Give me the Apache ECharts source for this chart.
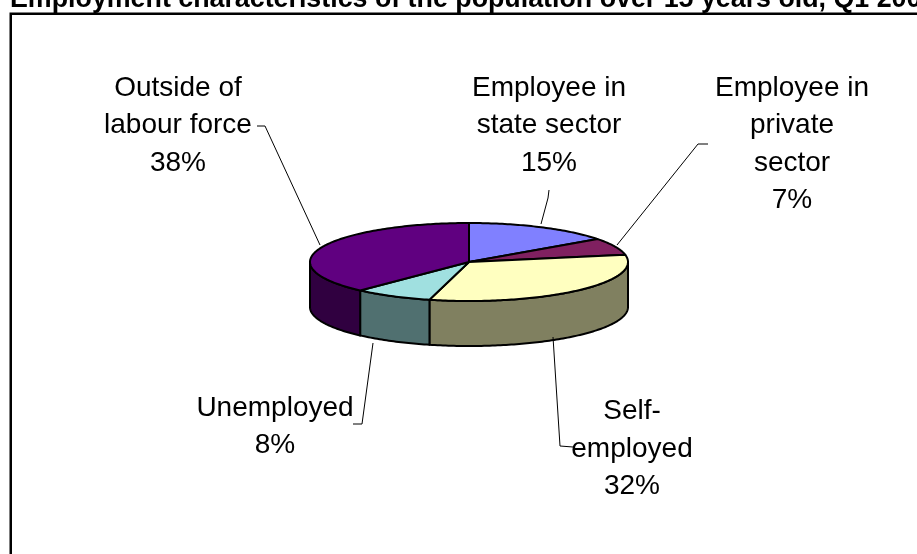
<!DOCTYPE html>
<html>
<head>
<meta charset="utf-8">
<script src="https://cdn.jsdelivr.net/npm/echarts@6/dist/echarts.min.js"></script>
<style>html,body{margin:0;padding:0;background:#fff}#c{width:917px;height:554px}</style>
</head>
<body>
<div id="c"></div>
<script>
// ---- data ----
var titleText = 'Employment characteristics of the population over 15 years old, Q1 2006';
var categories = ['Employee in\nstate sector', 'Employee in\nprivate\nsector', 'Self-\nemployed', 'Unemployed', 'Outside of\nlabour force'];
var values = [15, 7, 32, 8, 38];

// ---- styles / layout (not data) ----
var topColors = ['#8080FF', '#802060', '#FFFFC0', '#A0E0E0', '#600080'];
var sideColors = ['#404080', '#401030', '#808060', '#507070', '#300040'];
var pie = { cx: 469, cy: 262, rx: 159, ry: 39, depth: 45 };
var labelPos = [[549, 69.5], [792, 69.5], [632, 393], [275, 389.5], [178, 69.5]];
var leaders = [
  [[549, 190], [548, 198], [541, 224]],
  [[708, 144], [698, 144], [617, 245]],
  [[573, 447], [560, 446], [553, 337]],
  [[353, 424], [362, 424], [373, 343]],
  [[257, 126], [265, 126], [320, 245]]
];
var FONT = '"Liberation Sans", Arial, sans-serif';

var total = values.reduce(function (s, v) { return s + v; }, 0);

function pt(theta, dy) {
  return [pie.cx + pie.rx * Math.sin(theta), pie.cy - pie.ry * Math.cos(theta) + (dy || 0)];
}
function arc(a, b, dy) {
  var pts = [];
  var n = Math.max(2, Math.ceil((b - a) / (Math.PI / 180)));
  for (var i = 0; i <= n; i++) pts.push(pt(a + (b - a) * i / n, dy));
  return pts;
}

var chart = echarts.init(document.getElementById('c'), null, { renderer: 'canvas' });
chart.setOption({
  animation: false,
  backgroundColor: '#ffffff',
  graphic: [
    { type: 'rect', shape: { x: 10.75, y: 13.75, width: 1000, height: 1000 },
      style: { fill: 'none', stroke: '#000', lineWidth: 2.5 }, z: 0 },
    { type: 'text', x: 10, y: 0, z: 10,
      style: { text: titleText, font: 'bold 26.8px ' + FONT, fill: '#000', align: 'left', verticalAlign: 'middle' } }
  ],
  series: [{
    type: 'custom',
    coordinateSystem: 'none',
    silent: true,
    data: values.map(function (v, i) { return { name: categories[i], value: v }; }),
    renderItem: function (params, api) {
      var idx = params.dataIndex;
      var before = 0;
      for (var i = 0; i < idx; i++) before += values[i];
      var v = api.value(0);
      var a = before / total * Math.PI * 2;
      var b = (before + v) / total * Math.PI * 2;
      var children = [];
      // side wall (front half only)
      var sa = Math.max(a, Math.PI / 2), sb = Math.min(b, Math.PI * 1.5);
      if (sb > sa) {
        var topArc = arc(sa, sb, 0);
        var botArc = arc(sa, sb, pie.depth).reverse();
        children.push({
          type: 'polygon', shape: { points: topArc.concat(botArc) },
          style: { fill: sideColors[idx], stroke: '#000', lineWidth: 2, lineJoin: 'round' }
        });
      }
      // top face
      children.push({
        type: 'polygon', shape: { points: [[pie.cx, pie.cy]].concat(arc(a, b, 0)) },
        style: { fill: topColors[idx], stroke: '#000', lineWidth: 2, lineJoin: 'round' }
      });
      // leader line
      children.push({
        type: 'polyline', shape: { points: leaders[idx] },
        style: { fill: null, stroke: '#000', lineWidth: 1 }
      });
      // label
      children.push({
        type: 'text', x: labelPos[idx][0], y: labelPos[idx][1],
        style: {
          text: categories[idx] + '\n' + Math.round(v) + '%',
          font: '28px ' + FONT, fill: '#000', align: 'center', verticalAlign: 'top', lineHeight: 37.5
        }
      });
      return { type: 'group', children: children };
    }
  }]
});
</script>
</body>
</html>
